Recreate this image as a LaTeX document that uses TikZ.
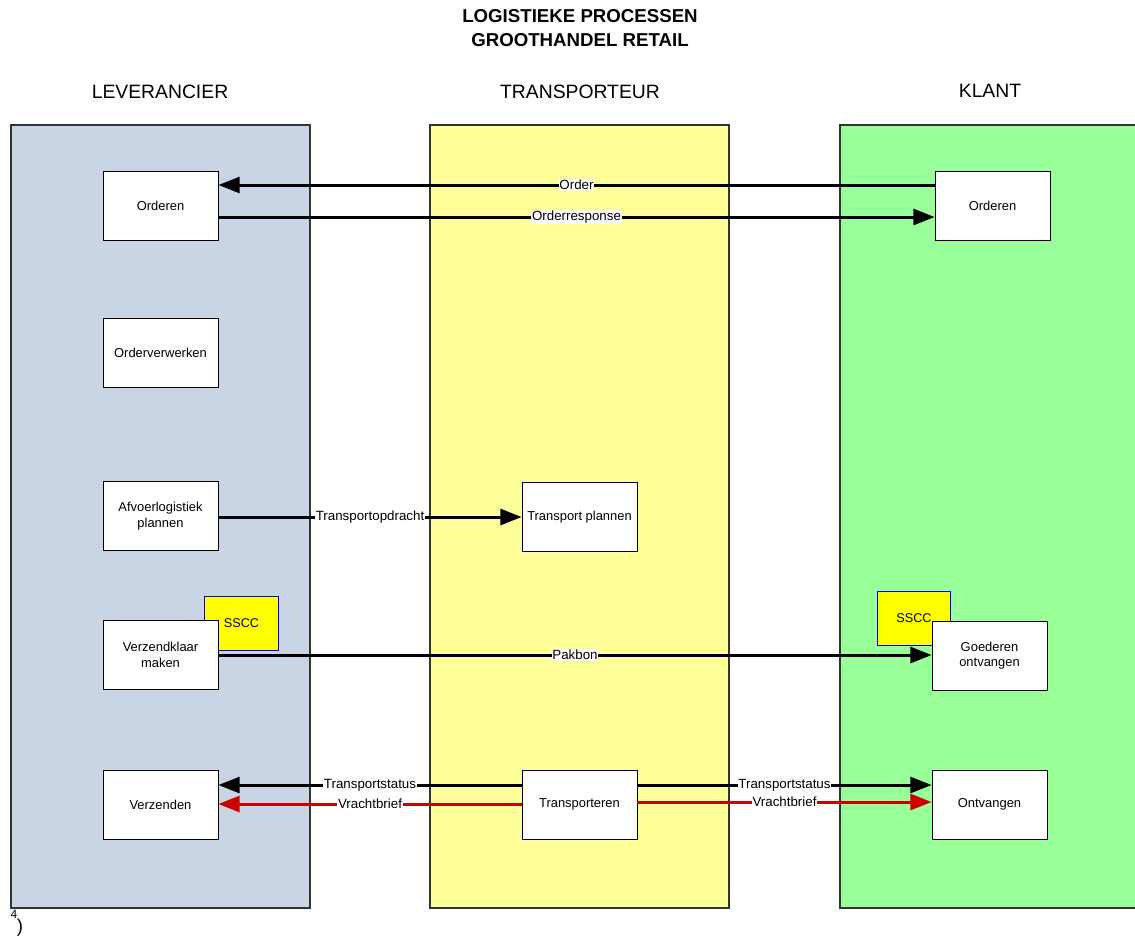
\documentclass[tikz,border=0pt]{standalone}
\usepackage{fontspec}
\setmainfont{Liberation Sans}
\usetikzlibrary{arrows.meta}
\definecolor{lanea}{RGB}{201,213,229}
\definecolor{laneb}{RGB}{255,255,153}
\definecolor{lanec}{RGB}{153,255,153}
\definecolor{ssccfill}{RGB}{255,255,0}
\definecolor{ssccline}{RGB}{0,0,255}
\definecolor{redline}{RGB}{204,0,0}
\tikzset{
  lane/.style={draw=black!80, line width=0.8pt},
  proc/.style={draw=black, fill=white, line width=0.6pt, minimum width=86.25pt, minimum height=51.75pt, inner sep=1pt, align=center, font=\fontsize{9.7}{11.5}\selectfont},
  ssccbox/.style={draw=ssccline, fill=ssccfill, line width=0.6pt, minimum width=55pt, minimum height=41pt, font=\fontsize{9.5}{11}\selectfont},
  flow/.style={line width=2.25pt, -{Triangle[length=16pt,width=12pt]}},
  redflow/.style={flow, draw=redline, -{Triangle[length=16pt,width=12pt,color=redline]}},
  lbl/.style={fill=white, inner sep=0.6pt, font=\fontsize{10}{11}\selectfont},
  hdr/.style={font=\fontsize{14.5}{16}\selectfont},
  ttl/.style={font=\bfseries\fontsize{14}{18}\selectfont, align=center}
}
\begin{document}
\begin{tikzpicture}[x=0.75pt,y=-0.75pt]
\useasboundingbox (0,0) rectangle (1135,939);
% title
\node[ttl] (title) at (580,28) {LOGISTIEKE PROCESSEN\\GROOTHANDEL RETAIL};
% headers
\node[hdr] (hl) at (160,92) {LEVERANCIER};
\node[hdr] (hm) at (580,92) {TRANSPORTEUR};
\node[hdr] (hr) at (990,91) {KLANT};
% lanes
\fill[lanea] (11,125) rectangle (310,908);
\draw[lane] (11,125) rectangle (310,908);
\fill[laneb] (430,125) rectangle (729,908);
\draw[lane] (430,125) rectangle (729,908);
\fill[lanec] (840,125) rectangle (1136,908);
\draw[lane] (1140,125) -- (840,125) -- (840,908) -- (1140,908);
% sscc
\node[ssccbox] (s1) at (241.5,623.5) {SSCC};
\node[ssccbox] (s2) at (914,618.5) {SSCC};
% process boxes
\node[proc] (lo) at (160.5,205.5) {Orderen};
\node[proc] (lov) at (160.5,352.5) {Orderverwerken};
\node[proc] (la) at (160.5,516) {Afvoerlogistiek\\plannen};
\node[proc] (lvm) at (160.5,655) {Verzendklaar\\maken};
\node[proc] (lvz) at (160.5,804.5) {Verzenden};
\node[proc] (mtp) at (579.5,517) {Transport plannen};
\node[proc] (mtr) at (579.5,804.5) {Transporteren};
\node[proc] (ro) at (992.5,205.5) {Orderen};
\node[proc] (rg) at (989.5,655.5) {Goederen\\ontvangen};
\node[proc] (rv) at (989.5,804.5) {Ontvangen};
% connectors
\draw[flow] (ro.west |- 0,185) -- node[lbl, pos=0.5] {Order} (lo.east |- 0,185);
\draw[flow] (lo.east |- 0,217) -- node[lbl, pos=0.5] {Orderresponse} (ro.west |- 0,217);
\draw[flow] (la.east |- 0,517) -- node[lbl, pos=0.5] {Transportopdracht} (mtp.west |- 0,517);
\draw[flow] (lvm.east |- 0,655) -- node[lbl, pos=0.5] {Pakbon} (rg.west |- 0,655);
\draw[flow] (mtr.west |- 0,785) -- node[lbl, pos=0.5] {Transportstatus} (lvz.east |- 0,785);
\draw[redflow] (mtr.west |- 0,804) -- node[lbl, pos=0.5] {Vrachtbrief} (lvz.east |- 0,804);
\draw[flow] (mtr.east |- 0,785) -- node[lbl, pos=0.5] {Transportstatus} (rv.west |- 0,785);
\draw[redflow] (mtr.east |- 0,802) -- node[lbl, pos=0.5] {Vrachtbrief} (rv.west |- 0,802);
% footer
\node[font=\fontsize{9}{10}\selectfont, inner sep=0pt] (f4) at (14,914) {4};
\node[font=\fontsize{14}{16}\selectfont, inner sep=0pt] (fp) at (20,928) {)};
\end{tikzpicture}
\end{document}
